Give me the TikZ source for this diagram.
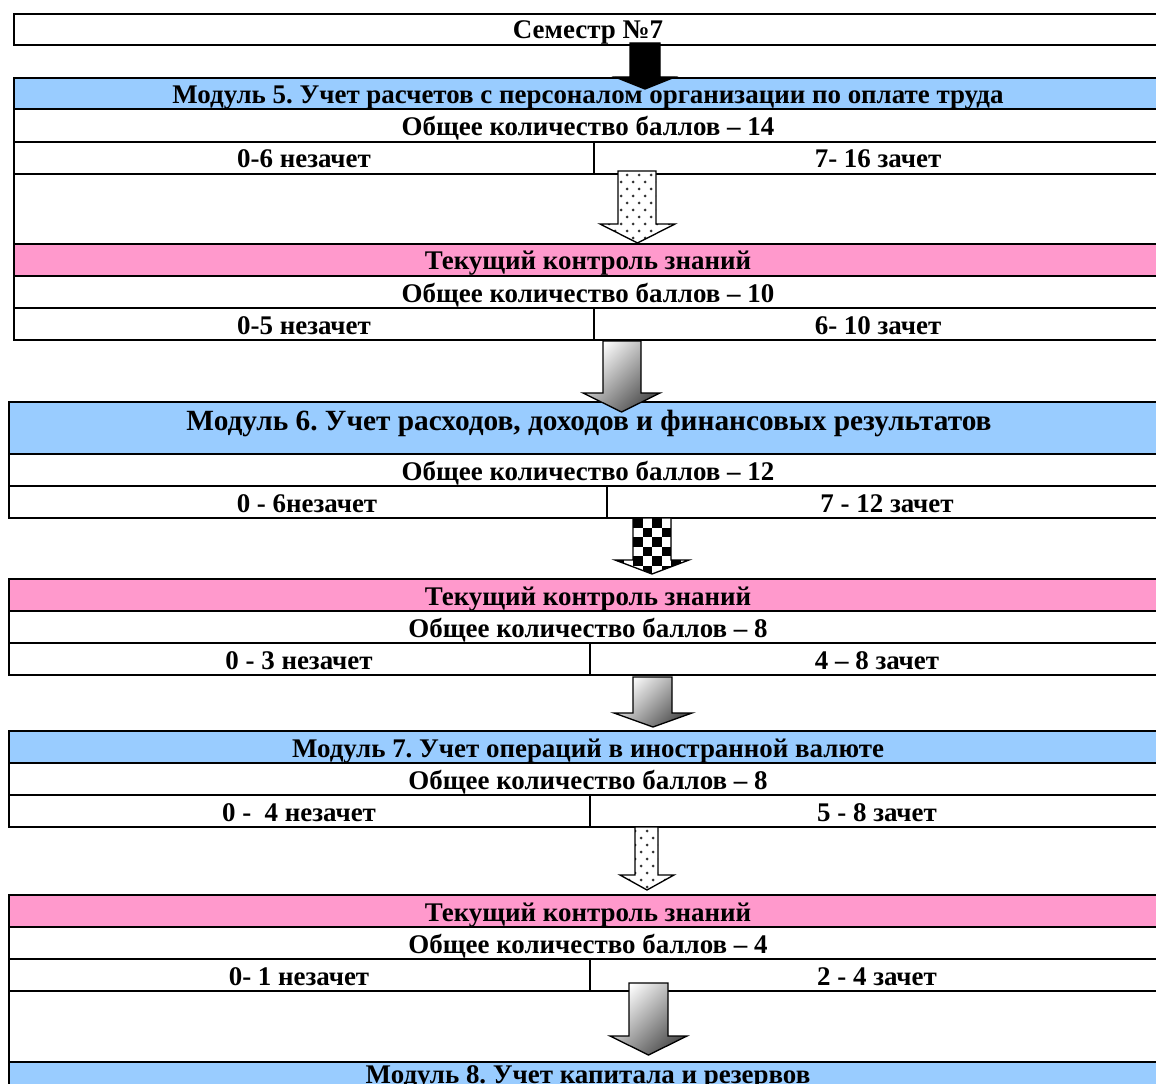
\documentclass[tikz,border=0pt]{standalone}
\usepackage{fontspec}
\setmainfont{Liberation Serif}
\frenchspacing
\definecolor{hblue}{HTML}{99CCFF}
\definecolor{hpink}{HTML}{FF99CC}
\newcommand\apath[7]{(#1,#3) -- (#2,#3) -- (#2,#4) -- (#6,#4) -- ({(#5+#6)/2},#7) -- (#5,#4) -- (#1,#4) -- cycle}
\newcommand\mydots[4]{% x0 x1 y0 y1
  \foreach \r in {0,...,12}{\foreach \c in {0,...,8}{%
    \fill[black!80] ({#1+3+12*\c+6*mod(\r,2)},{#3+4+7*\r}) circle (1.5);}}}
\begin{document}
\begin{tikzpicture}[x=0.75pt,y=-0.75pt,line width=1.5pt,
  txt/.style={font=\fontsize{20.2pt}{22pt}\selectfont\bfseries, inner sep=0pt, anchor=base},
  bigtxt/.style={font=\fontsize{22pt}{24pt}\selectfont\bfseries, inner sep=0pt, anchor=base},
  arrowline/.style={line width=1pt, draw=black},
  grad/.style={arrowline, top color=white, bottom color=black!70, shading angle=45}]
\useasboundingbox (0,0) rectangle (1156,1084);
\clip (0,0) rectangle (1156,1084);
\def\R{1166}
% ---- Semester box
\draw (14,14) rectangle (\R,45);
% ---- Block A (Module 5)
\fill[hblue] (14,78) rectangle (\R,109);
\fill[hpink] (14,244) rectangle (\R,276);
\draw (14,78) rectangle (\R,340);
\foreach \y in {109,142,174,244,276,308} \draw (14,\y) -- (\R,\y);
\draw (594,142) -- (594,174);
\draw (594,308) -- (594,340);
% ---- Block B (Module 6)
\fill[hblue] (9,402) rectangle (\R,454);
\draw (9,402) rectangle (\R,518);
\foreach \y in {454,486} \draw (9,\y) -- (\R,\y);
\draw (607,486) -- (607,518);
% ---- Block C
\fill[hpink] (9,579) rectangle (\R,611);
\draw (9,579) rectangle (\R,675);
\foreach \y in {611,643} \draw (9,\y) -- (\R,\y);
\draw (590,643) -- (590,675);
% ---- Block D (Module 7)
\fill[hblue] (9,731) rectangle (\R,763);
\draw (9,731) rectangle (\R,827);
\foreach \y in {763,795} \draw (9,\y) -- (\R,\y);
\draw (590,795) -- (590,827);
% ---- Block E
\fill[hpink] (9,895) rectangle (\R,927);
\fill[hblue] (9,1062) rectangle (\R,1100);
\draw (9,895) rectangle (\R,1100);
\foreach \y in {927,959,991,1062} \draw (9,\y) -- (\R,\y);
\draw (590,959) -- (590,991);
% ---- Arrows
\fill[black, arrowline] \apath{630}{660}{43}{77}{615}{675}{89};
\begin{scope}
  \clip \apath{618}{656}{171}{224}{600}{675}{243};
  \fill[white] (590,160) rectangle (690,250);
  \mydots{600}{675}{171}{243}
\end{scope}
\draw[arrowline] \apath{618}{656}{171}{224}{600}{675}{243};
\shade[grad] \apath{603}{641}{341}{393}{583}{660}{412};
\begin{scope}
  \clip \apath{633}{671}{518}{560}{615}{689}{574};
  \fill[white] (600,510) rectangle (700,580);
  \foreach \i in {0,...,7}{\foreach \j in {0,...,6}{%
    \pgfmathtruncatemacro\parity{mod(\i+\j,2)}%
    \ifnum\parity=0 \fill[black] ({614+9.5*\i},{518+9.5*\j}) rectangle +(9.5,9.5);\fi}}
\end{scope}
\draw[arrowline] \apath{633}{671}{518}{560}{615}{689}{574};
\shade[grad] \apath{633}{672}{677}{713}{614}{692}{727};
\begin{scope}
  \clip \apath{635}{658}{827}{875}{620}{674}{890};
  \fill[white] (610,820) rectangle (690,900);
  \mydots{620}{674}{827}{890}
\end{scope}
\draw[arrowline] \apath{635}{658}{827}{875}{620}{674}{890};
\shade[grad] \apath{629}{668}{983}{1036}{610}{687}{1055};
% ---- Texts
\node[txt] (sem) at (588,39) {Семестр №7};
\node[txt] (m5) at (588,104) {Модуль 5. Учет расчетов с персоналом организации по оплате труда};
\node[txt] (m5t) at (588,136) {Общее количество баллов – 14};
\node[txt] (m5a) at (304,168) {0-6 незачет};
\node[txt] (m5b) at (878,168) {7- 16 зачет};
\node[txt] (k1) at (588,270) {Текущий контроль знаний};
\node[txt] (k1t) at (588,302) {Общее количество баллов – 10};
\node[txt] (k1a) at (304,334) {0-5 незачет};
\node[txt] (k1b) at (878,334) {6- 10 зачет};
\node[bigtxt] (m6) at (589,430) {Модуль 6. Учет расходов, доходов и финансовых результатов};
\node[txt] (m6t) at (588,480) {Общее количество баллов – 12};
\node[txt] (m6a) at (307,512) {0 - 6незачет};
\node[txt] (m6b) at (887,512) {7 - 12 зачет};
\node[txt] (k2) at (588,605) {Текущий контроль знаний};
\node[txt] (k2t) at (588,637) {Общее количество баллов – 8};
\node[txt] (k2a) at (299,669) {0 - 3 незачет};
\node[txt] (k2b) at (877,669) {4 – 8 зачет};
\node[txt] (m7) at (588,757) {Модуль 7. Учет операций в иностранной валюте};
\node[txt] (m7t) at (588,789) {Общее количество баллов – 8};
\node[txt] (m7a) at (299,821) {0 -\ \ 4 незачет};
\node[txt] (m7b) at (877,821) {5 - 8 зачет};
\node[txt] (k3) at (588,921) {Текущий контроль знаний};
\node[txt] (k3t) at (588,953) {Общее количество баллов – 4};
\node[txt] (k3a) at (299,985) {0- 1 незачет};
\node[txt] (k3b) at (877,985) {2 - 4 зачет};
\node[txt] (m8) at (588,1083) {Модуль 8. Учет капитала и резервов};
\end{tikzpicture}
\end{document}
